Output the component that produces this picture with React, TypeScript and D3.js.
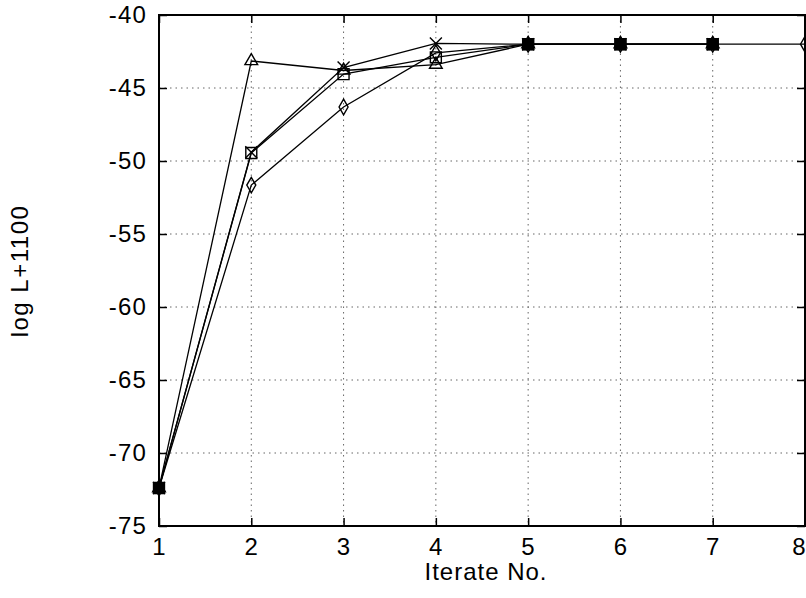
import React, { useEffect, useRef } from 'react'
import * as d3 from 'd3'

// iterate numbers
const iterates = [1, 2, 3, 4, 5, 6, 7, 8]
const yTicks = [-75, -70, -65, -60, -55, -50, -45, -40]

// log L + 1100 per iterate, one array per run
const triangleRun = [-72.4, -43.15, -43.8, -43.4, -42.0, -42.0, -42.0]
const crossRun = [-72.4, -49.4, -43.6, -41.95, -42.0, -42.0, -42.0]
const squareRun = [-72.4, -49.45, -44.05, -42.9, -42.0, -42.0, -42.0]
const diamondRun = [-72.4, -51.65, -46.3, -42.6, -42.0, -42.0, -42.0, -42.0]

const FONT = 'Liberation Sans, Arial, Helvetica, sans-serif'

const App = () => {
    const ref = useRef<SVGSVGElement>(null)

    useEffect(() => {
        drawChart()
    }, [])

    const drawChart = () => {
        const left = 159
        const right = 805
        const top = 15
        const bottom = 526

        const svg = d3.select(ref.current)
        svg.selectAll('*').remove()

        const x = d3.scaleLinear().domain([1, 8]).range([left, right])
        const y = d3.scaleLinear().domain([-75, -40]).range([bottom, top])

        // dotted grid
        svg.append('g')
            .selectAll('line')
            .data(iterates.slice(1, -1))
            .enter()
            .append('line')
            .attr('x1', d => x(d))
            .attr('x2', d => x(d))
            .attr('y1', top)
            .attr('y2', bottom)
            .attr('stroke', '#666')
            .attr('stroke-width', 1)
            .attr('stroke-dasharray', '1.5,4')

        svg.append('g')
            .selectAll('line')
            .data(yTicks.slice(1, -1))
            .enter()
            .append('line')
            .attr('x1', left)
            .attr('x2', right)
            .attr('y1', d => y(d))
            .attr('y2', d => y(d))
            .attr('stroke', '#666')
            .attr('stroke-width', 1)
            .attr('stroke-dasharray', '1.5,4')

        // frame
        svg.append('rect')
            .attr('x', left)
            .attr('y', top)
            .attr('width', right - left)
            .attr('height', bottom - top)
            .attr('fill', 'none')
            .attr('stroke', '#000')
            .attr('stroke-width', 2)

        const fmt = (d: any) => String(d)
        const xAxis = d3.axisBottom(x).tickValues(iterates).tickSize(-8).tickPadding(12).tickFormat(fmt)
        const yAxis = d3.axisLeft(y).tickValues(yTicks).tickSize(-8).tickPadding(12).tickFormat(fmt)
        const xTop = d3.axisTop(x).tickValues(iterates).tickSize(-8).tickFormat(() => '')
        const yRight = d3.axisRight(y).tickValues(yTicks).tickSize(-8).tickFormat(() => '')

        const gx = svg.append('g').attr('transform', `translate(0, ${bottom})`).call(xAxis)
        const gy = svg.append('g').attr('transform', `translate(${left}, 0)`).call(yAxis)
        const gt = svg.append('g').attr('transform', `translate(0, ${top})`).call(xTop)
        const gr = svg.append('g').attr('transform', `translate(${right}, 0)`).call(yRight)

        ;[gx, gy, gt, gr].forEach(g => {
            g.select('.domain').remove()
            g.selectAll('line').attr('stroke', '#000').attr('stroke-width', 1.5)
            g.selectAll('text')
                .attr('font-family', FONT)
                .attr('font-size', 24)
                .attr('letter-spacing', 1.2)
                .attr('fill', '#000')
        })
        gx.selectAll('text').attr('dy', '0.71em')
        gx.selectAll('text').filter((d: any) => d === 8).attr('dx', -6)

        svg.append('text')
            .attr('x', (left + right) / 2 + 4)
            .attr('y', 580)
            .attr('text-anchor', 'middle')
            .attr('font-family', FONT)
            .attr('font-size', 24)
            .attr('letter-spacing', 1)
            .text('Iterate No.')

        svg.append('text')
            .attr('transform', `translate(28, ${271}) rotate(-90)`)
            .attr('text-anchor', 'middle')
            .attr('font-family', FONT)
            .attr('font-size', 24)
            .attr('letter-spacing', 1.5)
            .text('log L+1100')

        const line = d3.line<number>()
            .x((d, i) => x(iterates[i]))
            .y(d => y(d))

        const runs = [
            { values: diamondRun, symbol: d3.symbolDiamond, size: 70 },
            { values: triangleRun, symbol: d3.symbolTriangle, size: 70 },
            { values: squareRun, symbol: d3.symbolSquare, size: 120 },
            { values: crossRun, symbol: null, size: 0 }
        ]

        runs.forEach(r => {
            svg.append('path')
                .datum(r.values)
                .attr('d', line)
                .attr('fill', 'none')
                .attr('stroke', '#000')
                .attr('stroke-width', 1.3)
        })

        runs.forEach(r => {
            svg.append('g')
                .selectAll('path')
                .data(r.values)
                .enter()
                .append('path')
                .attr('transform', (d, i) => `translate(${x(iterates[i])}, ${y(d)})`)
                .attr('d', r.symbol
                    ? d3.symbol().type(r.symbol).size(r.size)()
                    : 'M-6,-6L6,6M-6,6L6,-6')
                .attr('fill', 'none')
                .attr('stroke', '#000')
                .attr('stroke-width', 1.4)
        })

        // converged points read as solid squares
        svg.append('g')
            .selectAll('rect')
            .data(squareRun.map((v, i) => [iterates[i], v]).filter(p => p[0] === 1 || p[0] >= 5))
            .enter()
            .append('rect')
            .attr('x', d => x(d[0]) - 6)
            .attr('y', d => y(d[1]) - 6)
            .attr('width', 12)
            .attr('height', 12)
            .attr('fill', '#000')
    }

    return (
        <svg ref={ref} width={806} height={598}
            style={{ position: 'absolute', left: 0, top: 0, background: '#fff' }} />
    )
}

export default App
